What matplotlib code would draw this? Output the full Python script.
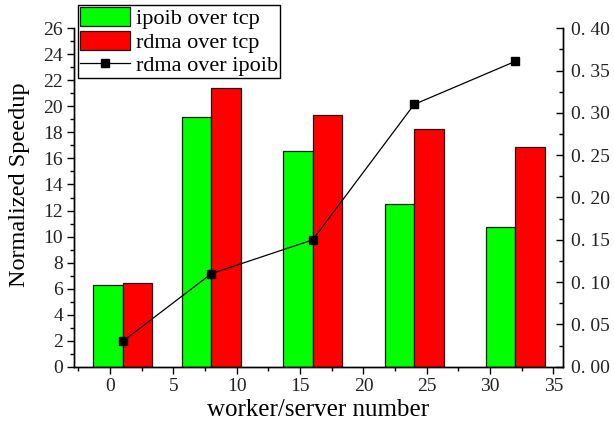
import matplotlib
matplotlib.use("Agg")
import matplotlib.pyplot as plt
from matplotlib.ticker import MultipleLocator, FuncFormatter
import numpy as np

# data
workers = [1, 8, 16, 24, 32]
ipoib_over_tcp = [6.28, 19.15, 16.54, 12.49, 10.72]
rdma_over_tcp = [6.46, 21.38, 19.36, 18.30, 16.85]
rdma_over_ipoib = [0.030, 0.110, 0.150, 0.310, 0.361]

plt.rcParams['font.family'] = ['Liberation Serif', 'DejaVu Serif']

fig = plt.figure(figsize=(6.14, 4.22), dpi=100)
ax = fig.add_axes([74/614, 1-366.7/422, (562.7-74)/614, (366.7-28.3)/422])
ax2 = ax.twinx()

bw = 2.33
x = np.array(workers, dtype=float)
ax.bar(x - bw/2, ipoib_over_tcp, width=bw, color='#00FF00', edgecolor='#1a1a1a',
       linewidth=0.9, label='ipoib over tcp', zorder=2)
ax.bar(x + bw/2, rdma_over_tcp, width=bw, color='#FF0000', edgecolor='#1a1a1a',
       linewidth=0.9, label='rdma over tcp', zorder=2)
ax2.plot(x, rdma_over_ipoib, color='black', linewidth=0.9, marker='s',
         markersize=5.5, label='rdma over ipoib')

ax.set_xlim(-2.85, 35.73)
ax.set_ylim(0, 26)
ax2.set_ylim(0, 0.40)

ax.xaxis.set_major_locator(MultipleLocator(5))
ax.xaxis.set_minor_locator(MultipleLocator(2.5))
ax.yaxis.set_major_locator(MultipleLocator(2))
ax.yaxis.set_minor_locator(MultipleLocator(1))
ax2.yaxis.set_major_locator(MultipleLocator(0.05))
ax2.yaxis.set_minor_locator(MultipleLocator(0.025))
ax2.yaxis.set_major_formatter(FuncFormatter(lambda v, p: "0. %02d" % round(v*100)))

for a in (ax, ax2):
    a.spines['top'].set_visible(False)
    for s in a.spines.values():
        s.set_linewidth(1.0)
ax.tick_params(axis='both', which='major', direction='out', length=5, width=1,
               labelsize=14, pad=3, colors='black', labelcolor='#222222')
ax.tick_params(axis='both', which='minor', direction='out', length=3, width=1)
ax2.tick_params(axis='y', which='major', direction='in', length=5, width=1,
                labelsize=14, pad=6, labelcolor='#222222')
ax2.tick_params(axis='y', which='minor', direction='in', length=3, width=1)

ax.set_xlabel('worker/server number', fontsize=18, labelpad=3)
ax.set_ylabel('Normalized Speedup', fontsize=17.5)
ax.yaxis.set_label_coords(-0.09, 0.537)

h1, l1 = ax.get_legend_handles_labels()
h2, l2 = ax2.get_legend_handles_labels()
leg = fig.legend(h1 + h2, l1 + l2, loc='upper left', bbox_to_anchor=(78/614, 1-5/422),
                 bbox_transform=fig.transFigure, fontsize=16, frameon=True,
                 fancybox=False, edgecolor='black', framealpha=1,
                 handlelength=2.25, handleheight=0.95, handletextpad=0.25,
                 labelspacing=0.05, borderpad=0.1, borderaxespad=0)
leg.get_frame().set_linewidth(1.0)

fig.savefig('out.png', dpi=100)
